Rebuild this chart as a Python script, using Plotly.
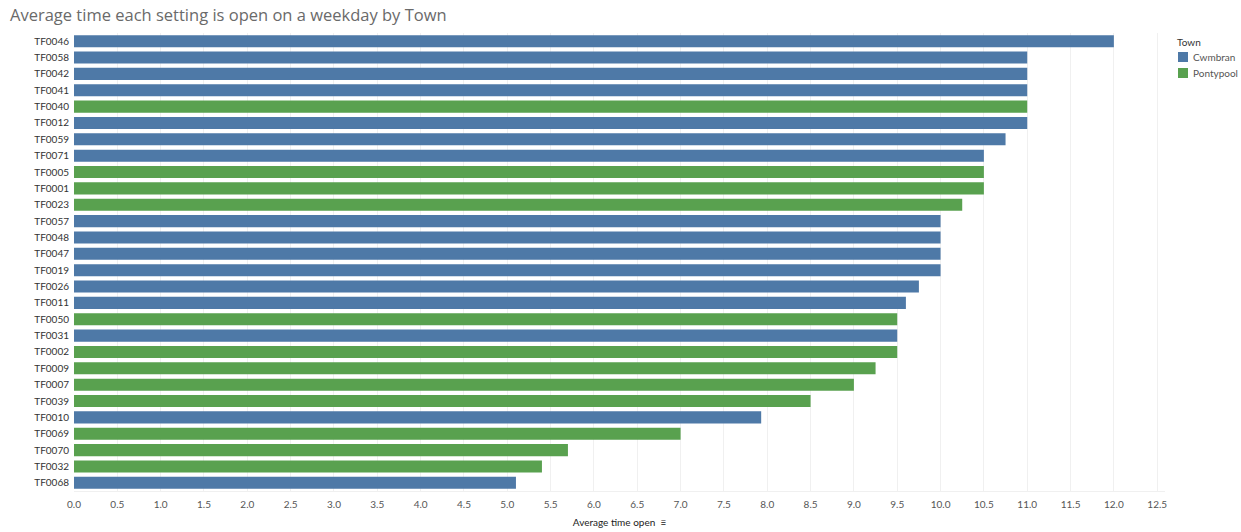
import plotly.graph_objects as go

settings = ["TF0046", "TF0058", "TF0042", "TF0041", "TF0040", "TF0012", "TF0059",
            "TF0071", "TF0005", "TF0001", "TF0023", "TF0057", "TF0048", "TF0047",
            "TF0019", "TF0026", "TF0011", "TF0050", "TF0031", "TF0002", "TF0009",
            "TF0007", "TF0039", "TF0010", "TF0069", "TF0070", "TF0032", "TF0068"]
towns = ["Cwmbran", "Cwmbran", "Cwmbran", "Cwmbran", "Pontypool", "Cwmbran", "Cwmbran",
         "Cwmbran", "Pontypool", "Pontypool", "Pontypool", "Cwmbran", "Cwmbran", "Cwmbran",
         "Cwmbran", "Cwmbran", "Cwmbran", "Pontypool", "Cwmbran", "Pontypool", "Pontypool",
         "Pontypool", "Pontypool", "Cwmbran", "Pontypool", "Pontypool", "Pontypool", "Cwmbran"]
avg_open = [12.0, 11.0, 11.0, 11.0, 11.0, 11.0, 10.75,
            10.5, 10.5, 10.5, 10.25, 10.0, 10.0, 10.0,
            10.0, 9.75, 9.6, 9.5, 9.5, 9.5, 9.25,
            9.0, 8.5, 7.93, 7.0, 5.7, 5.4, 5.1]
town_order = ["Cwmbran", "Pontypool"]
town_colors = {"Cwmbran": "#4e79a7", "Pontypool": "#59a14f"}
tick_vals = [i * 0.5 for i in range(26)]
tick_text = [f"{v:.1f}" for v in tick_vals]

# figure geometry (page body margin removed by post_script)
W, H = 1241, 532
ML, MR, MT, MB = 74, 76, 33, 41
PW, PH = W - ML - MR, H - MT - MB


def px_x(px):
    return (px - ML) / PW


def px_y(py):
    return (H - MB - py) / PH


fig = go.Figure()
for t in town_order:
    ys = [s for s, tw in zip(settings, towns) if tw == t]
    xs = [v for v, tw in zip(avg_open, towns) if tw == t]
    fig.add_trace(go.Bar(
        x=xs, y=ys, name=t, orientation="h",
        marker=dict(color=town_colors[t], line=dict(width=0)),
        hoverinfo="skip", showlegend=False,
    ))

# legend drawn as shapes + text
shapes = []
annotations = [dict(text="Town", xref="paper", yref="paper", x=px_x(1175), y=px_y(42),
                    xanchor="left", yanchor="middle", showarrow=False,
                    font=dict(size=10, color="#333333"))]
for i, t in enumerate(town_order):
    cy = 57 + 16 * i
    shapes.append(dict(type="rect", xref="paper", yref="paper",
                       x0=px_x(1178), x1=px_x(1188), y0=px_y(cy - 5), y1=px_y(cy + 5),
                       fillcolor=town_colors[t], line=dict(width=0), layer="above"))
    annotations.append(dict(text=t, xref="paper", yref="paper", x=px_x(1191), y=px_y(cy),
                            xanchor="left", yanchor="middle", showarrow=False,
                            font=dict(size=10, color="#555555")))

fig.update_layout(
    width=W, height=H,
    margin=dict(l=ML, r=MR, t=MT, b=MB, autoexpand=False),
    paper_bgcolor="white", plot_bgcolor="white",
    barmode="overlay", bargap=0.26,
    font=dict(family="Lato, Open Sans, sans-serif", color="#333333", size=10),
    title=dict(text="Average time each setting is open on a weekday by Town",
               x=10 / W, xanchor="left", y=1 - 15 / H, yanchor="middle",
               font=dict(size=16.5, color="#6a6a6a", family="Open Sans, Lato, sans-serif")),
    showlegend=False,
    shapes=shapes, annotations=annotations,
)
fig.update_xaxes(range=[0, 12.59], tickvals=tick_vals, ticktext=tick_text,
                 showgrid=True, gridcolor="#f0f0f0", gridwidth=1,
                 zeroline=False, showline=True, linecolor="#f0f0f0",
                 ticks="", tickfont=dict(size=10, color="#555555"),
                 ticklabelstandoff=4,
                 title=dict(text="Average time open  ≡", font=dict(size=10, color="#222222"),
                            standoff=9),
                 automargin=False, fixedrange=True)
fig.update_yaxes(categoryorder="array", categoryarray=settings[::-1],
                 showgrid=False, zeroline=False, showline=False,
                 ticks="", tickfont=dict(size=10, color="#333333"),
                 ticklabelstandoff=4, automargin=False, fixedrange=True)

fig.write_html("out.html", config={"displayModeBar": False},
               post_script="document.body.style.margin='0';document.body.style.overflow='hidden';")
